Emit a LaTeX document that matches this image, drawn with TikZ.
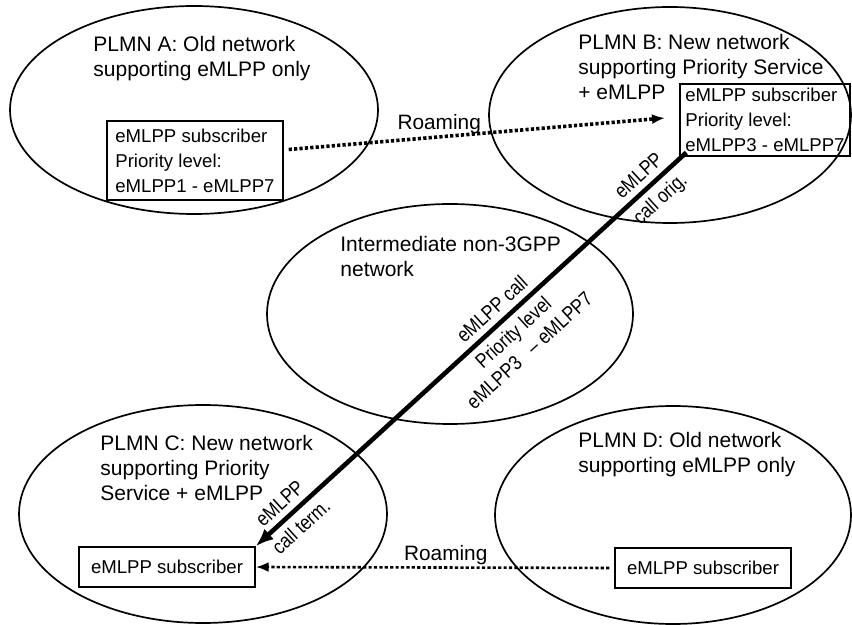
\documentclass[tikz,border=0pt]{standalone}
\usepackage{fontspec}
\setmainfont{Liberation Sans}
\newfontfamily\narrowfont[FakeStretch=0.85]{Liberation Sans}
\usepackage{tikz}
\usetikzlibrary{arrows.meta,positioning,calc}
\tikzset{
    region/.style={
        line width=0.85pt
    },
    title/.style={
        anchor=north west,
        inner sep=0pt,
        align=left,
        font=\fontsize{10.5}{12.5}\selectfont
    },
    subbox/.style={
        draw,
        line width=0.7pt,
        align=left,
        inner sep=2pt,
        minimum width=88pt,
        font=\fontsize{9.3}{12.5}\selectfont
    },
    roam/.style={
        -{Latex[length=6.5pt,width=5pt]},
        line width=1.8pt,
        dash pattern=on 1.6pt off 1.1pt
    },
    call/.style={
        -{Latex[length=9pt,width=7pt]},
        line width=2.3pt
    },
    lbl/.style={font=\fontsize{10.4}{12}\selectfont, inner sep=0.5pt},
    slbl/.style={
        sloped,
        align=center,
        inner sep=3pt,
        font=\narrowfont\fontsize{10.2}{12}\selectfont
    }
}

\begin{document}
\begin{tikzpicture}[x=0.5pt,y=-0.5pt]
\useasboundingbox (0,0) rectangle (852,625);

% networks
\draw[region] (194,110) ellipse [x radius=92pt, y radius=52pt];
\draw[region] (670,115) ellipse [x radius=90.5pt, y radius=54pt];
\draw[region] (450,314) ellipse [x radius=91.5pt, y radius=55pt];
\draw[region] (203,514) ellipse [x radius=92pt, y radius=54.5pt];
\draw[region] (673,515) ellipse [x radius=89pt, y radius=54.5pt];

\node[title] (titleA) at (93,35.5) {PLMN A: Old network\\supporting eMLPP only};
\node[title] (titleB) at (578,33.5) {PLMN B: New network\\supporting Priority Service\\+ eMLPP};
\node[title] (titleI) at (340,235.5) {Intermediate non-3GPP\\network};
\node[title] (titleC) at (100,434.5) {PLMN C: New network\\supporting Priority\\Service + eMLPP};
\node[title] (titleD) at (578,431.5) {PLMN D: Old network\\supporting eMLPP only};

% subscribers
\node[subbox, minimum height=39.5pt] (subA) at (195,160.5)
    {eMLPP subscriber\\Priority level:\\eMLPP1 - eMLPP7};
\node[subbox, minimum width=85pt, minimum height=35pt] (subB) at (765,120)
    {eMLPP subscriber\\Priority level:\\eMLPP3 - eMLPP7};
\node[subbox, minimum height=20pt] (subC) at (167,567) {eMLPP subscriber};
\node[subbox, minimum height=20pt] (subD) at (703,568) {eMLPP subscriber};

% roaming
\coordinate (roamend) at (665,118);
\draw[roam] ([xshift=2.5pt,yshift=5.5pt]subA.east) --
    node[lbl,above,pos=.4] (roamAB) {Roaming} (roamend);
\draw[roam, line width=1.3pt, shorten <=2.5pt] (subD.west) --
    node[lbl,above,pos=.47] (roamDC) {Roaming} (subC.east);

% call
\draw[call] ([xshift=3.5pt,yshift=2pt]subB.south west) --
    node[slbl,above,pos=.087] (orig1) {eMLPP}
    node[slbl,below,pos=.087] (orig2) {call orig.}
    node[slbl,above,pos=.427] (prio1) {eMLPP call}
    node[slbl,below,pos=.427] (prio2) {Priority level\\eMLPP3\ \ \ – eMLPP7}
    node[slbl,above,pos=.92] (term1) {eMLPP}
    node[slbl,below,pos=.92] (term2) {call term.}
    (subC.north east);

\end{tikzpicture}
\end{document}
